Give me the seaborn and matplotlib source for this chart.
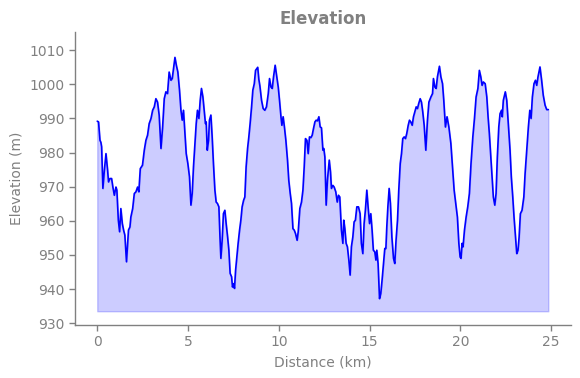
import matplotlib
matplotlib.use("Agg")
import matplotlib.pyplot as plt
import seaborn as sns
import pandas as pd

distance_km = [
    0.00, 0.07, 0.15, 0.20, 0.24, 0.31, 0.39, 0.48, 0.57, 0.62, 0.70, 0.79, 0.86, 0.94, 1.03, 1.08,
    1.16, 1.23, 1.30, 1.38, 1.45, 1.52, 1.61, 1.72, 1.80, 1.85, 1.95, 2.04, 2.13, 2.22, 2.29, 2.37,
    2.49, 2.59, 2.68, 2.77, 2.86, 2.96, 3.05, 3.14, 3.23, 3.32, 3.41, 3.51, 3.60, 3.69, 3.78, 3.87,
    3.96, 4.06, 4.13, 4.20, 4.28, 4.36, 4.44, 4.53, 4.61, 4.68, 4.75, 4.83, 4.90, 4.99, 5.08, 5.16,
    5.23, 5.30, 5.38, 5.45, 5.52, 5.60, 5.67, 5.74, 5.82, 5.89, 5.96, 6.00, 6.06, 6.13, 6.18, 6.26,
    6.33, 6.40, 6.48, 6.55, 6.62, 6.70, 6.76, 6.81, 6.88, 6.95, 7.03, 7.10, 7.18, 7.25, 7.32, 7.40,
    7.45, 7.51, 7.56, 7.62, 7.69, 7.76, 7.84, 7.91, 7.98, 8.06, 8.13, 8.20, 8.28, 8.35, 8.42, 8.50,
    8.57, 8.65, 8.72, 8.79, 8.84, 8.90, 8.96, 9.05, 9.14, 9.23, 9.32, 9.42, 9.49, 9.57, 9.64, 9.71,
    9.80, 9.90, 9.97, 10.04, 10.12, 10.17, 10.24, 10.31, 10.39, 10.48, 10.55, 10.63, 10.70, 10.78,
    10.85, 10.92, 11.01, 11.07, 11.16, 11.25, 11.33, 11.40, 11.47, 11.55, 11.62, 11.69, 11.77, 11.84,
    11.91, 11.99, 12.06, 12.13, 12.21, 12.28, 12.35, 12.43, 12.48, 12.54, 12.61, 12.68, 12.78, 12.85,
    12.90, 12.98, 13.05, 13.14, 13.22, 13.29, 13.36, 13.45, 13.53, 13.58, 13.64, 13.71, 13.78, 13.86,
    13.93, 14.00, 14.08, 14.15, 14.22, 14.30, 14.39, 14.48, 14.55, 14.63, 14.70, 14.77, 14.85, 14.92,
    15.00, 15.07, 15.14, 15.21, 15.29, 15.35, 15.40, 15.47, 15.55, 15.62, 15.69, 15.77, 15.84, 15.90,
    15.95, 16.01, 16.08, 16.15, 16.23, 16.32, 16.39, 16.46, 16.54, 16.61, 16.69, 16.76, 16.83, 16.91,
    16.98, 17.05, 17.13, 17.20, 17.27, 17.35, 17.42, 17.49, 17.57, 17.64, 17.71, 17.79, 17.86, 17.93,
    18.01, 18.10, 18.19, 18.27, 18.38, 18.47, 18.52, 18.60, 18.67, 18.74, 18.85, 18.93, 19.02, 19.09,
    19.18, 19.27, 19.37, 19.48, 19.57, 19.66, 19.77, 19.84, 19.92, 19.99, 20.04, 20.10, 20.15, 20.23,
    20.32, 20.41, 20.50, 20.59, 20.69, 20.78, 20.87, 20.97, 21.05, 21.13, 21.20, 21.27, 21.37, 21.46,
    21.53, 21.60, 21.68, 21.75, 21.82, 21.90, 21.97, 22.04, 22.12, 22.19, 22.27, 22.31, 22.37, 22.48,
    22.56, 22.67, 22.74, 22.81, 22.89, 22.96, 23.04, 23.11, 23.18, 23.24, 23.31, 23.40, 23.50, 23.57,
    23.66, 23.75, 23.83, 23.90, 23.97, 24.06, 24.14, 24.21, 24.28, 24.39, 24.48, 24.57, 24.67, 24.76,
    24.85,
]

elevation_m = [
    989.2, 989.0, 983.6, 983.0, 981.7, 969.5, 974.8, 979.7, 974.8, 971.4, 972.4, 972.4, 969.9, 967.5, 969.9, 969.0,
    960.2, 956.8, 963.6, 959.2, 957.3, 955.8, 948.0, 957.3, 958.2, 961.1, 963.6, 968.0, 968.5, 969.9, 968.5, 975.3,
    976.3, 980.7, 983.6, 985.1, 988.5, 990.0, 992.4, 993.4, 995.8, 994.8, 991.0, 981.2, 987.5, 995.8, 997.8, 997.3,
    1003.6, 1001.2, 1001.7, 1004.6, 1007.9, 1005.5, 1003.6, 998.3, 992.4, 989.5, 992.4, 985.6, 979.7, 976.8, 972.9, 964.6,
    968.0, 975.8, 982.7, 988.5, 992.4, 990.0, 995.3, 998.8, 996.3, 992.4, 988.5, 989.0, 980.7, 983.6, 989.5, 991.0,
    984.6, 976.8, 969.0, 965.5, 965.1, 964.1, 955.3, 949.0, 954.3, 962.1, 963.1, 959.2, 955.3, 951.4, 944.6, 943.6,
    940.6, 941.6, 940.2, 945.5, 949.4, 953.4, 957.3, 960.2, 964.1, 966.0, 967.0, 975.8, 981.2, 984.6, 988.5, 993.4,
    998.3, 1000.2, 1004.1, 1004.6, 1005.0, 1001.5, 999.5, 995.3, 992.9, 992.4, 993.4, 997.3, 1001.7, 999.2, 998.8, 1002.2,
    1005.6, 1001.7, 999.2, 995.3, 990.5, 988.0, 990.5, 987.5, 983.6, 977.8, 971.9, 968.0, 965.1, 957.7,
    957.3, 956.3, 954.3, 956.8, 963.6, 965.5, 969.0, 975.8, 984.1, 983.6, 979.7, 984.6, 984.4, 985.1,
    987.0, 989.0, 989.5, 989.3, 990.5, 987.5, 987.3, 980.7, 981.2, 978.7, 964.6, 971.9, 977.8, 974.3,
    969.5, 970.4, 969.9, 968.5, 965.5, 967.5, 967.0, 957.3, 953.4, 960.2, 957.7, 953.4, 952.4, 948.5,
    944.1, 952.4, 955.3, 959.7, 960.2, 964.1, 964.1, 962.1, 953.4, 950.4, 959.2, 963.1, 969.0, 964.1,
    959.2, 962.1, 957.3, 951.4, 950.9, 948.5, 951.4, 947.5, 937.2, 938.7, 942.6, 947.5, 951.9, 951.9,
    958.2, 964.1, 969.5, 965.1, 955.3, 949.0, 947.5, 954.3, 960.2, 969.0, 976.8, 979.7, 984.1, 984.6,
    984.1, 985.6, 988.0, 989.5, 989.0, 988.0, 990.5, 991.9, 993.4, 992.9, 994.4, 995.8, 994.8, 992.0,
    988.0, 980.7, 989.5, 994.8, 996.3, 997.3, 1001.7, 999.2, 998.8, 1002.2, 1005.3, 1002.2, 1000.2, 995.3,
    987.5, 990.5, 987.5, 982.7, 975.8, 969.0, 964.1, 961.1, 953.4, 949.4, 949.0, 953.4, 952.4, 957.3,
    961.1, 964.1, 968.0, 976.8, 984.6, 990.0, 996.3, 998.8, 1004.1, 1002.2, 999.7, 1000.7, 1000.2, 996.3,
    990.5, 985.6, 978.7, 972.9, 967.0, 964.6, 968.0, 978.7, 987.5, 991.4, 992.4, 990.5, 995.3, 997.8,
    995.3, 986.6, 980.7, 972.9, 967.0, 961.1, 955.3, 950.4, 951.4, 955.3, 962.1, 963.1, 967.0, 973.9,
    980.7, 987.5, 992.4, 990.0, 996.3, 1000.2, 1001.2, 999.7, 1002.2, 1005.1, 1001.2, 996.8, 993.9, 992.6,
    992.6,
]

fill_base_m = 933.5
y_ticks = [930, 940, 950, 960, 970, 980, 990, 1000, 1010]
x_ticks = [0, 5, 10, 15, 20, 25]

df = pd.DataFrame({"Distance (km)": distance_km, "Elevation (m)": elevation_m})

sns.set_theme(style="ticks")
plt.rcParams["font.family"] = ["DejaVu Sans"]
grey = "#808080"

fig = plt.figure(figsize=(5.8, 3.78), dpi=100)
ax = fig.add_axes([0.1295, 0.140, 0.855, 0.775])

ax.fill_between(df["Distance (km)"], df["Elevation (m)"], fill_base_m,
                color="blue", alpha=0.2, linewidth=1)
sns.lineplot(data=df, x="Distance (km)", y="Elevation (m)", color="blue",
             linewidth=1.2, ax=ax, sort=False)

ax.set_xlim(-1.22, 26.1)
ax.set_ylim(929.45, 1015.3)
ax.set_xticks(x_ticks)
ax.set_yticks(y_ticks)

sns.despine(ax=ax)
for s in ("left", "bottom"):
    ax.spines[s].set_color(grey)
    ax.spines[s].set_linewidth(1.0)
ax.tick_params(colors=grey, labelcolor=grey, labelsize=10, length=4, width=1)
ax.set_xlabel("Distance (km)", color=grey, fontsize=10)
ax.set_ylabel("Elevation (m)", color=grey, fontsize=10)
ax.set_title("Elevation", color=grey, fontsize=12, fontweight="bold", pad=6)

fig.savefig("out.png", dpi=100)
